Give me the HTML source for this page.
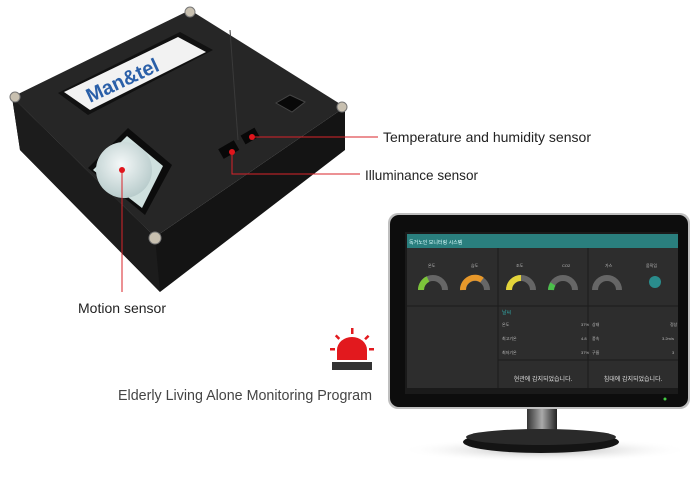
<!DOCTYPE html>
<html><head><meta charset="utf-8"><style>
html,body{margin:0;padding:0;background:#fff;width:700px;height:488px;overflow:hidden}
svg{display:block}
text{font-family:"Liberation Sans","Noto Sans CJK KR",sans-serif}
</style></head><body>
<svg width="700" height="488" viewBox="0 0 700 488" xmlns="http://www.w3.org/2000/svg">
<defs>
<radialGradient id="dome" cx="45%" cy="40%" r="60%"><stop offset="0" stop-color="#f4f8f8"/><stop offset="1" stop-color="#b9cccc"/></radialGradient>
<radialGradient id="shadow" cx="50%" cy="50%" r="50%"><stop offset="0" stop-color="#888" stop-opacity=".7"/><stop offset="1" stop-color="#fff" stop-opacity="0"/></radialGradient>
<linearGradient id="neck" x1="0" x2="1"><stop offset="0" stop-color="#333"/><stop offset=".5" stop-color="#aaa"/><stop offset="1" stop-color="#222"/></linearGradient>
</defs>
<!-- device -->
<polygon points="12,97 155,237 345,107 345,150 160,292 20,150" fill="#141414"/>
<polygon points="12,97 155,237 160,292 20,150" fill="#1c1c1c"/>
<polygon points="190,10 12,97 155,237 345,107" fill="#262626"/>
<line x1="230" y1="30" x2="238" y2="140" stroke="#3a3a3a"/>
<polygon points="58,93 180,32 213,50 88,115" fill="#111"/>
<polygon points="64,92 178,37 206,52 90,110" fill="#f2f2f2"/>
<text x="0" y="0" font-size="20" font-weight="bold" fill="#2a5fa8" transform="translate(90,103) rotate(-25)">Man&amp;tel</text>
<polygon points="88,168 128,128 172,165 145,215" fill="#0c0c0c"/>
<polygon points="93,170 127,136 163,166 142,208" fill="#cfe0de"/>
<circle cx="124" cy="170" r="28" fill="url(#dome)"/>
<polygon points="276,103 290,95 305,102 292,112" fill="#080808" stroke="#444"/>
<rect x="220" y="144" width="18" height="11" fill="#080808" transform="rotate(-30 229 150)"/>
<rect x="242" y="131" width="16" height="10" fill="#080808" transform="rotate(-30 250 136)"/>
<g fill="#c8c0b0" stroke="#777"><circle cx="190" cy="12" r="5"/><circle cx="15" cy="97" r="5"/><circle cx="342" cy="107" r="5"/><circle cx="155" cy="238" r="6"/></g>
<!-- callouts -->
<g stroke="#d8232a" stroke-width="1" fill="none">
<polyline points="252,137 378,137"/><polyline points="232,152 232,174 360,174"/><polyline points="122,170 122,292"/>
</g>
<g fill="#e0151c"><circle cx="252" cy="137" r="3"/><circle cx="232" cy="152" r="3"/><circle cx="122" cy="170" r="3"/></g>
<text x="383" y="142" font-size="14" fill="#222" textLength="208" lengthAdjust="spacingAndGlyphs">Temperature and humidity sensor</text>
<text x="365" y="180" font-size="14" fill="#222" textLength="113" lengthAdjust="spacingAndGlyphs">Illuminance sensor</text>
<text x="78" y="313" font-size="14" fill="#222" textLength="88" lengthAdjust="spacingAndGlyphs">Motion sensor</text>
<!-- alarm -->
<g fill="#e2191e"><path d="M337,360 V350 A15,13 0 0 1 367,350 V360 Z"/>
<rect x="351" y="328" width="2.5" height="6"/><rect x="330" y="348" width="5" height="2.5"/><rect x="369" y="348" width="5" height="2.5"/>
<rect x="336" y="335" width="2.5" height="5" transform="rotate(-45 337 337)"/><rect x="366" y="335" width="2.5" height="5" transform="rotate(45 367 337)"/></g>
<rect x="332" y="362" width="40" height="8" fill="#333"/>
<text x="118" y="400" font-size="15" fill="#444" textLength="254" lengthAdjust="spacingAndGlyphs">Elderly Living Alone Monitoring Program</text>
<!-- monitor -->
<ellipse cx="545" cy="450" rx="145" ry="12" fill="url(#shadow)"/>
<rect x="527" y="405" width="30" height="30" fill="url(#neck)"/>
<ellipse cx="541" cy="442" rx="78" ry="11" fill="#141414"/>
<ellipse cx="541" cy="437" rx="75" ry="8" fill="#2a2a2a"/>
<rect x="388" y="213" width="302" height="196" rx="10" fill="#bfbfbf"/>
<rect x="390" y="215" width="298" height="192" rx="9" fill="#0d0d0d"/>
<rect x="405" y="232" width="273" height="162" fill="#1a1a1a"/>
<rect x="407" y="234" width="271" height="14" fill="#2a7f7e"/>
<text x="409" y="244" font-size="5" fill="#dff">독거노인 모니터링 시스템</text>
<rect x="407" y="248" width="271" height="140" fill="#2d2d2d"/>
<g stroke="#1c1c1c" stroke-width="1"><line x1="498" y1="248" x2="498" y2="388"/><line x1="588" y1="248" x2="588" y2="388"/><line x1="407" y1="306" x2="678" y2="306"/><line x1="498" y1="360" x2="678" y2="360"/></g>
<g fill="none" stroke-width="6">
<path d="M421,290 A12,12 0 0 1 445,290" stroke="#666"/><path d="M421,290 A12,12 0 0 1 428,279" stroke="#7cc43a"/>
<path d="M463,290 A12,12 0 0 1 487,290" stroke="#666"/><path d="M463,290 A12,12 0 0 1 482,280" stroke="#e7982a"/>
<path d="M509,290 A12,12 0 0 1 533,290" stroke="#666"/><path d="M509,290 A12,12 0 0 1 521,278" stroke="#e3d43a"/>
<path d="M551,290 A12,12 0 0 1 575,290" stroke="#666"/><path d="M551,290 A12,12 0 0 1 553,284" stroke="#4bc04b"/>
<path d="M595,290 A12,12 0 0 1 619,290" stroke="#666"/></g>
<circle cx="655" cy="282" r="6" fill="#2a8c8c"/>
<g font-size="4" fill="#bbb"><text x="428" y="267">온도</text><text x="471" y="267">습도</text><text x="516" y="267">조도</text><text x="562" y="267">CO2</text><text x="605" y="267">가스</text><text x="646" y="267">움직임</text>
<text x="502" y="326">온도</text><text x="581" y="326">37%</text><text x="502" y="340">최고기온</text><text x="581" y="340">4.8</text><text x="502" y="354">최저기온</text><text x="581" y="354">37%</text>
<text x="592" y="326">상태</text><text x="670" y="326">정상</text><text x="592" y="340">풍속</text><text x="662" y="340">3.2m/s</text><text x="592" y="354">구름</text><text x="672" y="354">3</text></g>
<text x="502" y="314" font-size="5" fill="#3aa">날씨</text>
<text x="543" y="381" font-size="6" fill="#ddd" text-anchor="middle">현관에 감지되었습니다.</text>
<text x="633" y="381" font-size="6" fill="#ddd" text-anchor="middle">침대에 감지되었습니다.</text>
<circle cx="665" cy="399" r="1.5" fill="#4c4"/>
</svg>
</body></html>
